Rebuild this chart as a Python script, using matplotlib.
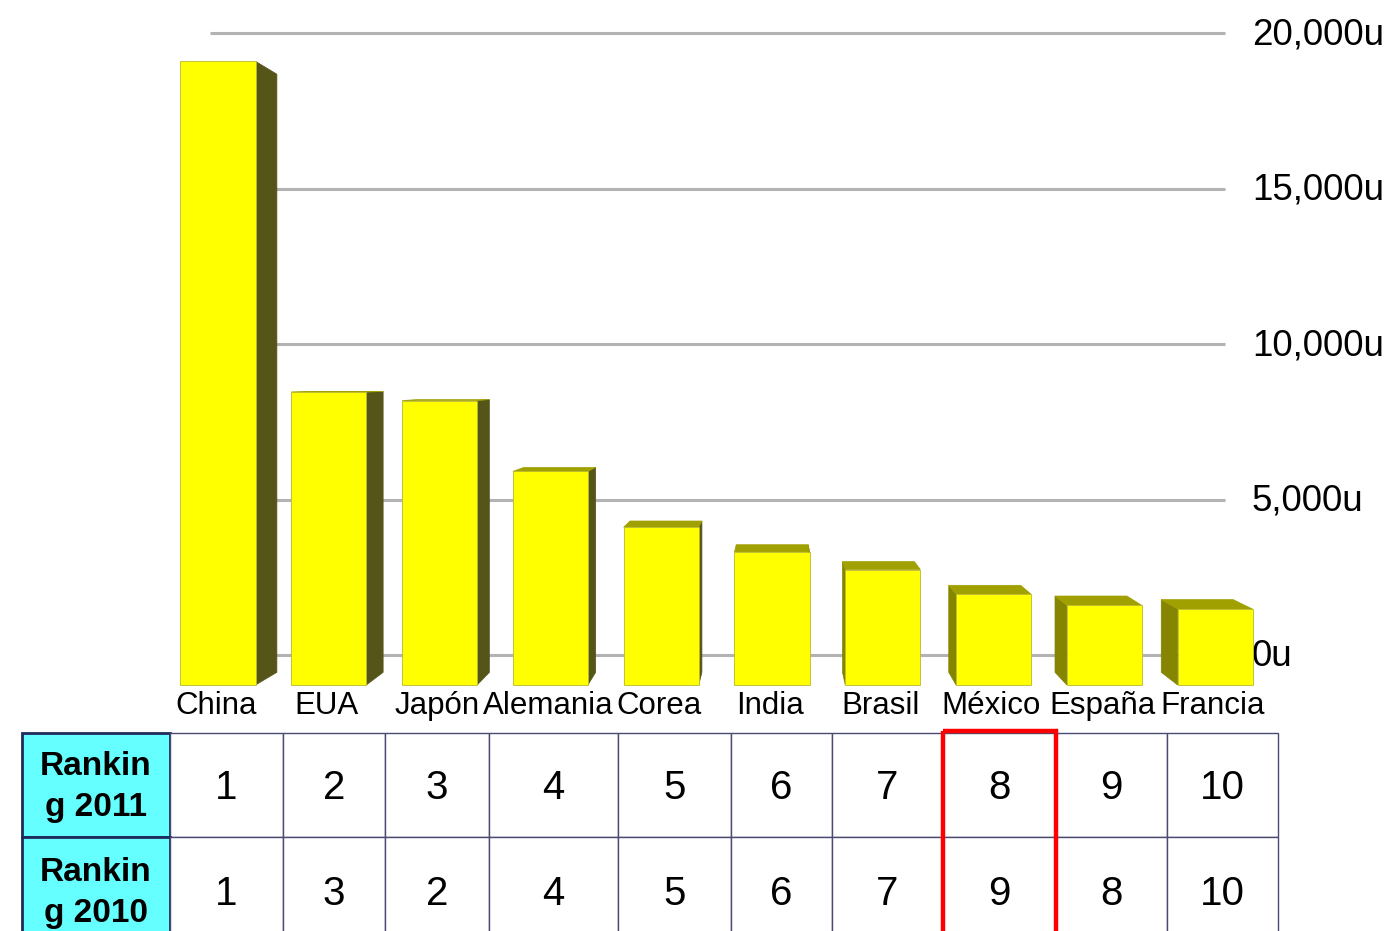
import matplotlib.pyplot as plt
from matplotlib.patches import Polygon, Rectangle

plt.rcParams["font.family"] = ["Liberation Sans", "DejaVu Sans"]

# data
paises = ["China", "EUA", "Japón", "Alemania", "Corea", "India", "Brasil", "México", "España", "Francia"]
produccion = [18420, 8650, 8400, 6310, 4660, 3930, 3410, 2680, 2350, 2240]
rank_2011 = [1, 2, 3, 4, 5, 6, 7, 8, 9, 10]
rank_2010 = [1, 3, 2, 4, 5, 6, 7, 9, 8, 10]
row_labels = ["Rankin\ng 2011", "Rankin\ng 2010"]
ticks = [0, 5000, 10000, 15000, 20000]
resaltado = "México"

W, H = 1397, 931
fig = plt.figure(figsize=(W / 100, H / 100), dpi=100)


def px_rect(left, top, right, bottom):
    return [left / W, (H - bottom) / H, (right - left) / W, (bottom - top) / H]


rect = px_rect(150, 0, 1290, 720)
ax_wall = fig.add_axes(rect, zorder=1)
ax = fig.add_axes(rect, zorder=2)
ax.set_facecolor("none")
for a in (ax_wall, ax):
    a.axis("off")
    a.set_xlim((150 - 218) / 110.8, (1290 - 218) / 110.8)

# front plane: 0 at y=685 px, 33.86 px per 1000
ax.set_ylim((685 - 720) * 1000 / 33.86, 685 * 1000 / 33.86)
# back wall: 0 at y=655 px, 20000 at y=33 px
ax_wall.set_ylim((655 - 720) * 20000 / 622, 655 * 20000 / 622)

# back wall grid lines and right labels
for t in ticks:
    ax_wall.plot([(210 - 218) / 110.8, (1225 - 218) / 110.8], [t, t],
                 color="#b3b3b3", lw=2.2, solid_capstyle="butt")
    ax_wall.text((1252 - 218) / 110.8, t - 60, f"{t:,}u", fontsize=26.5,
                 ha="left", va="center", color="black")

# pseudo 3d bars with a vanishing point
vp_x, vp_y, k = (777 - 218) / 110.8, 9126, 0.041
width = 0.677
front_c, top_c = "#ffff00", "#a0a000"


def back(x, y):
    return (x + k * (vp_x - x), y + k * (vp_y - y))


for i, (nombre, v) in enumerate(zip(paises, produccion)):
    x0, x1 = i - width / 2, i + width / 2
    if i < vp_x:
        xs, side_c = x1, "#55551a"
    else:
        xs, side_c = x0, "#858500"
    side = [(xs, 0), (xs, v), back(xs, v), back(xs, 0)]
    ax.add_patch(Polygon(side, closed=True, facecolor=side_c,
                         edgecolor=side_c, lw=0.5))
    if v < vp_y:
        top = [(x0, v), (x1, v), back(x1, v), back(x0, v)]
        ax.add_patch(Polygon(top, closed=True, facecolor=top_c,
                             edgecolor=top_c, lw=0.5))
    ax.add_patch(Rectangle((x0, 0), width, v, facecolor=front_c,
                           edgecolor="#b8b830", lw=0.6))
    ax.text(i - 0.02, (685 - 706) * 1000 / 33.86, nombre, fontsize=22.5,
            ha="center", va="center", color="black")

# ranking table
ax_t = fig.add_axes([0, 0, 1, 1], zorder=3)
ax_t.set_facecolor("none")
ax_t.axis("off")
ax_t.set_xlim(0, W)
ax_t.set_ylim(H, 0)

col_edges = [22, 170, 283, 385, 489, 618, 731, 832, 943, 1056, 1167, 1278]
row_edges = [733, 837, 945]
for r, (lab, vals) in enumerate(zip(row_labels, [rank_2011, rank_2010])):
    y0, y1 = row_edges[r], row_edges[r + 1]
    for c in range(len(col_edges) - 1):
        x0, x1 = col_edges[c], col_edges[c + 1]
        if c == 0:
            ax_t.add_patch(Rectangle((x0, y0), x1 - x0, y1 - y0, facecolor="#66ffff",
                                     edgecolor="#1f2b5c", lw=2))
            ax_t.text((x0 + x1) / 2, (y0 + y1) / 2 + 2, lab, fontsize=24,
                      fontweight="bold", ha="center", va="center", linespacing=1.45)
        else:
            ax_t.add_patch(Rectangle((x0, y0), x1 - x0, y1 - y0, facecolor="white",
                                     edgecolor="#4a4a72", lw=1))
            ax_t.text((x0 + x1) / 2, (y0 + y1) / 2 + 3, str(vals[c - 1]), fontsize=29,
                      ha="center", va="center")

j = paises.index(resaltado) + 1
ax_t.add_patch(Rectangle((col_edges[j], 731), col_edges[j + 1] - col_edges[j], 260,
                         facecolor="none", edgecolor="#ff0000", lw=3.2))

fig.savefig("out.png", dpi=100)
